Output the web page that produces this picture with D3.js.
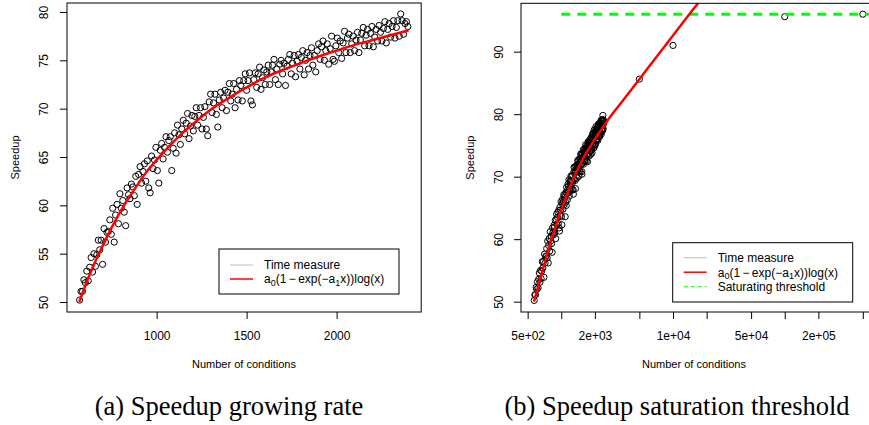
<!DOCTYPE html>
<html>
<head>
<meta charset="utf-8">
<script src="https://cdn.jsdelivr.net/npm/d3@7"></script>
<style>
    body { margin: 0; background: #fff; }
    svg { font-family: "Liberation Sans", Arial, sans-serif; }
    .caption { font-family: "Liberation Serif", "Times New Roman", serif; }
</style>
</head>
<body>
<div id="chart"></div>
<script>
'use strict';

// measured speedup vs number of conditions
const conditions = [
    572, 580, 588, 596, 604, 612, 620, 628, 636, 644,
    652, 660, 668, 676, 684, 692, 700, 708, 716, 724,
    732, 740, 748, 756, 764, 772, 780, 788, 796, 804,
    812, 820, 828, 836, 844, 852, 860, 868, 876, 884,
    892, 900, 908, 916, 924, 932, 940, 948, 956, 964,
    972, 980, 988, 996, 1004, 1012, 1020, 1028, 1036, 1044,
    1052, 1060, 1068, 1076, 1084, 1092, 1100, 1108, 1116, 1124,
    1132, 1140, 1148, 1156, 1164, 1172, 1180, 1188, 1196, 1204,
    1212, 1220, 1228, 1236, 1244, 1252, 1260, 1268, 1276, 1284,
    1292, 1300, 1308, 1316, 1324, 1332, 1340, 1348, 1356, 1364,
    1372, 1380, 1388, 1396, 1404, 1412, 1420, 1428, 1436, 1444,
    1452, 1460, 1468, 1476, 1484, 1492, 1500, 1508, 1516, 1524,
    1532, 1540, 1548, 1556, 1564, 1572, 1580, 1588, 1596, 1604,
    1612, 1620, 1628, 1636, 1644, 1652, 1660, 1668, 1676, 1684,
    1692, 1700, 1708, 1716, 1724, 1732, 1740, 1748, 1756, 1764,
    1772, 1780, 1788, 1796, 1804, 1812, 1820, 1828, 1836, 1844,
    1852, 1860, 1868, 1876, 1884, 1892, 1900, 1908, 1916, 1924,
    1932, 1940, 1948, 1956, 1964, 1972, 1980, 1988, 1996, 2004,
    2012, 2020, 2028, 2036, 2044, 2052, 2060, 2068, 2076, 2084,
    2092, 2100, 2108, 2116, 2124, 2132, 2140, 2148, 2156, 2164,
    2172, 2180, 2188, 2196, 2204, 2212, 2220, 2228, 2236, 2244,
    2252, 2260, 2268, 2276, 2284, 2292, 2300, 2308, 2316, 2324,
    2332, 2340, 2348, 2356, 2364, 2372, 2380, 2388, 2396
];
const speedup = [
    50.2, 51.1, 51.1, 52.3, 52.0, 53.2, 52.2, 53.6, 54.6, 53.1,
    55.0, 53.7, 54.9, 56.4, 55.4, 56.4, 53.9, 57.6, 56.2, 57.2,
    57.3, 58.5, 57.0, 59.7, 56.2, 59.0, 60.1, 58.1, 61.2, 59.7,
    60.5, 59.3, 57.9, 61.8, 61.1, 60.7, 62.2, 61.9, 61.0, 63.0,
    60.1, 63.2, 64.0, 62.3, 63.5, 64.3, 62.5, 64.6, 61.8, 61.3,
    65.1, 63.8, 64.7, 66.0, 63.6, 62.3, 65.7, 66.4, 64.8, 66.0,
    67.1, 65.5, 66.7, 67.1, 63.6, 65.9, 67.5, 65.4, 68.3, 67.3,
    66.3, 67.9, 68.8, 67.4, 68.5, 69.5, 66.9, 68.2, 69.3, 67.7,
    69.2, 70.1, 68.3, 69.3, 70.1, 67.9, 69.1, 70.2, 67.9, 67.2,
    70.7, 71.5, 69.6, 70.6, 71.5, 69.4, 68.1, 70.9, 71.7, 70.1,
    71.1, 71.9, 69.8, 71.7, 72.6, 70.8, 71.5, 72.6, 70.1, 72.0,
    70.9, 72.9, 72.4, 70.8, 72.9, 73.6, 71.9, 72.9, 73.7, 70.8,
    70.4, 73.0, 73.7, 72.2, 73.6, 74.3, 72.0, 73.2, 74.0, 72.5,
    73.8, 74.5, 72.5, 73.8, 74.5, 75.1, 73.0, 74.1, 72.5, 74.6,
    75.0, 73.6, 74.7, 72.4, 74.4, 75.1, 75.6, 73.6, 74.7, 75.5,
    73.3, 74.9, 75.6, 74.1, 75.3, 76.0, 73.5, 75.0, 75.8, 74.1,
    75.5, 76.3, 74.5, 75.5, 73.8, 76.0, 76.7, 75.1, 76.4, 77.0,
    75.0, 76.0, 76.7, 74.6, 76.2, 77.5, 75.1, 74.9, 76.5, 77.3,
    75.8, 77.0, 75.2, 76.8, 78.0, 75.8, 77.3, 77.7, 75.8, 76.7,
    77.5, 76.0, 77.1, 77.9, 75.8, 77.1, 77.8, 78.4, 76.5, 77.6,
    78.2, 76.5, 77.8, 78.5, 76.4, 77.4, 78.2, 77.0, 78.6, 77.9,
    77.0, 78.3, 79.0, 76.8, 78.2, 78.8, 77.4, 78.5, 79.1, 77.3,
    78.4, 79.1, 77.5, 79.8, 79.1, 77.7, 78.8, 79.0, 78.5
];

// extra runs with many conditions (panel b)
const largeConditions = [5000, 10000, 100000, 500000];
const largeSpeedup = [85.6, 91.0, 95.6, 96.0];

// fitted curve a0(1-exp(-a1 x))log(x)
const fitConditions = [570, 600, 650, 700, 750, 800, 850, 900, 950, 1000, 1100, 1200,
    1300, 1400, 1500, 1600, 1700, 1800, 1900, 2000, 2100, 2200, 2300, 2400];
const fitSpeedup = [50.0, 51.5, 53.8, 55.8, 57.7, 59.4, 60.9, 62.3, 63.6, 64.7, 66.7, 68.4,
    69.9, 71.1, 72.2, 73.2, 74.0, 74.7, 75.4, 76.0, 76.6, 77.1, 77.6, 78.1];
const fitConditionsExt = [3000, 3500, 5000, 7000, 10000, 14000, 20000];
const fitSpeedupExt = [80.5, 82.0, 85.6, 89.0, 92.6, 96.0, 99.5];

const threshold = 96;
const thresholdFrom = 1000;

const leftTicksX = [1000, 1500, 2000];
const leftTicksY = [50, 55, 60, 65, 70, 75, 80];
const rightTicksX = [500, 1000, 2000, 5000, 10000, 20000, 50000, 100000, 200000, 500000];
const rightTickLabels = ['5e+02', '', '2e+03', '', '1e+04', '', '5e+04', '', '2e+05', ''];
const rightTicksY = [50, 60, 70, 80, 90];

const legendNames = ['Time measure', 'fit', 'Saturating threshold'];

const svg = d3.select('#chart')
    .append('svg')
    .attr('width', 869)
    .attr('height', 425);

const points = conditions.map((c, i) => ({x: c, y: speedup[i]}));
const fitPoints = fitConditions.map((c, i) => ({x: c, y: fitSpeedup[i]}));
const fitPointsExt = fitPoints.concat(fitConditionsExt.map((c, i) => ({x: c, y: fitSpeedupExt[i]})));
const largePoints = largeConditions.map((c, i) => ({x: c, y: largeSpeedup[i]}));

function drawPanel(id, x, y, opts) {
    const [x0, x1] = x.range();
    const [y0, y1] = y.range();
    const g = svg.append('g');

    g.append('clipPath').attr('id', id)
        .append('rect')
        .attr('x', x0).attr('y', y1)
        .attr('width', x1 - x0).attr('height', y0 - y1);

    const plot = g.append('g').attr('clip-path', `url(#${id})`);

    plot.selectAll('circle')
        .data(opts.points)
        .join('circle')
        .attr('cx', d => x(d.x))
        .attr('cy', d => y(d.y))
        .attr('r', 3.1)
        .attr('fill', 'none')
        .attr('stroke', '#000')
        .attr('stroke-width', 1);

    if (opts.threshold) {
        plot.append('line')
            .attr('x1', x(thresholdFrom)).attr('x2', x1)
            .attr('y1', y(threshold)).attr('y2', y(threshold))
            .attr('stroke', '#00ff00')
            .attr('stroke-width', 3)
            .attr('stroke-dasharray', '9,7');
    }

    const line = d3.line()
        .x(d => x(d.x))
        .y(d => y(d.y))
        .curve(d3.curveMonotoneX);

    plot.append('path')
        .datum(opts.fit)
        .attr('d', line)
        .attr('fill', 'none')
        .attr('stroke', '#ff0000')
        .attr('stroke-width', 2.5);

    // box
    g.append('rect')
        .attr('x', x0).attr('y', y1)
        .attr('width', x1 - x0).attr('height', y0 - y1)
        .attr('fill', 'none')
        .attr('stroke', '#000');

    const xAxis = g.append('g')
        .attr('transform', `translate(0,${y0})`)
        .call(d3.axisBottom(x).tickValues(opts.ticksX).tickSize(7).tickPadding(12)
            .tickFormat((d, i) => opts.labelsX ? opts.labelsX[i] : d));
    xAxis.select('.domain').remove();

    const yAxis = g.append('g')
        .attr('transform', `translate(${x0},0)`)
        .call(d3.axisLeft(y).tickValues(opts.ticksY).tickSize(7));
    yAxis.select('.domain').remove();
    yAxis.selectAll('text')
        .attr('x', null).attr('dy', null)
        .attr('text-anchor', 'middle')
        .attr('transform', `translate(${-opts.yLabelOffset},0) rotate(-90)`);

    g.selectAll('.tick text')
        .attr('font-family', '"Liberation Sans", Arial, sans-serif')
        .attr('font-size', 12)
        .attr('fill', '#000');
    g.selectAll('.tick line').attr('stroke', '#000');

    g.append('text')
        .attr('x', opts.titleX)
        .attr('y', 368)
        .attr('text-anchor', 'middle')
        .attr('font-size', 11)
        .text('Number of conditions');

    g.append('text')
        .attr('transform', `translate(${opts.speedupX},${(y0 + y1) / 2}) rotate(-90)`)
        .attr('text-anchor', 'middle')
        .attr('font-size', 11)
        .text('Speedup');

    g.append('text')
        .attr('class', 'caption')
        .attr('x', opts.captionX)
        .attr('y', 415)
        .attr('text-anchor', 'middle')
        .attr('font-size', 26.5)
        .text(opts.caption);

    // legend
    const lg = opts.legend;
    g.append('rect')
        .attr('x', lg.x).attr('y', lg.y)
        .attr('width', lg.w).attr('height', lg.h)
        .attr('fill', '#fff')
        .attr('stroke', '#000');

    const rows = legendNames.slice(0, lg.rows);
    const styles = [
        {stroke: '#bebebe', width: 1, dash: null},
        {stroke: '#ff0000', width: 1.5, dash: null},
        {stroke: '#00ff00', width: 1, dash: '4,3'}
    ];
    rows.forEach((name, i) => {
        const cy = lg.firstRow + i * lg.step;
        g.append('line')
            .attr('x1', lg.x + 11).attr('x2', lg.x + 34)
            .attr('y1', cy).attr('y2', cy)
            .attr('stroke', styles[i].stroke)
            .attr('stroke-width', styles[i].width)
            .attr('stroke-dasharray', styles[i].dash);
        const t = g.append('text')
            .attr('x', lg.x + 45)
            .attr('y', cy + 4.3)
            .attr('font-size', 12);
        if (name === 'fit') {
            t.append('tspan').text('a');
            t.append('tspan').attr('dy', 2.5).attr('font-size', 9).text('0');
            t.append('tspan').attr('dy', -2.5).text('(1\u2009\u2212\u2009exp(\u2212a');
            t.append('tspan').attr('dy', 2.5).attr('font-size', 9).text('1');
            t.append('tspan').attr('dy', -2.5).text('x))log(x)');
        } else {
            t.text(name);
        }
    });
}

drawPanel('clipA',
    d3.scaleLinear().domain([502, 2470]).range([67, 421.2]),
    d3.scaleLinear().domain([48.97, 80.93]).range([312, 3]),
    {
        points: points,
        fit: fitPoints,
        threshold: false,
        ticksX: leftTicksX,
        ticksY: leftTicksY,
        yLabelOffset: 19,
        titleX: 244,
        speedupX: 19,
        captionX: 229,
        caption: '(a) Speedup growing rate',
        legend: {x: 219, y: 249, w: 180, h: 45, rows: 2, firstRow: 265, step: 14}
    });

drawPanel('clipB',
    d3.scaleLog().domain([436, 656000]).range([521, 876]),
    d3.scaleLinear().domain([48.35, 97.74]).range([312, 3.3]),
    {
        points: points.concat(largePoints),
        fit: fitPointsExt,
        threshold: true,
        ticksX: rightTicksX,
        labelsX: rightTickLabels,
        ticksY: rightTicksY,
        yLabelOffset: 18,
        titleX: 694,
        speedupX: 474,
        captionX: 677,
        caption: '(b) Speedup saturation threshold',
        legend: {x: 672.7, y: 242.7, w: 180, h: 59.3, rows: 3, firstRow: 257.7, step: 14.5}
    });
</script>
</body>
</html>
